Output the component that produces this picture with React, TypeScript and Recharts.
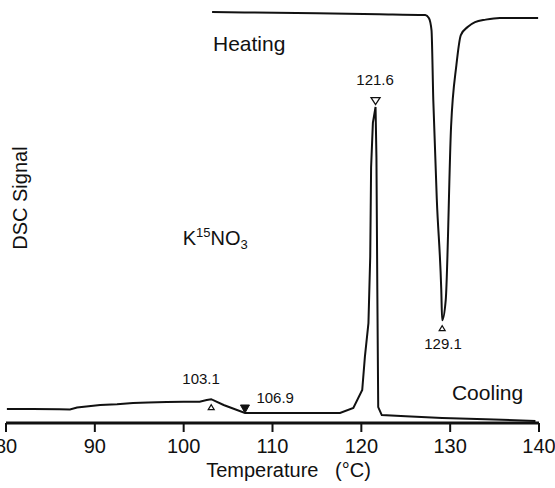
import React from 'react';
import { LineChart, Line, XAxis, YAxis, ReferenceDot } from 'recharts';

// Temperature (°C) and DSC signal (arbitrary units, 0–100)
const heatingTemp = [103.2, 108, 115, 122, 127.2, 127.6, 127.9, 128.1, 128.5, 129.0, 129.1, 129.5, 130.1, 130.7, 131.2, 132.0, 132.8, 134.0, 135.6, 139.9];
const heatingSignal = [98.3, 98.2, 98.0, 97.8, 97.6, 96.9, 94.0, 77.3, 53.3, 31.8, 24.6, 29.4, 70.8, 85.6, 92.8, 94.8, 95.9, 96.5, 96.9, 96.9];

const coolingTemp = [80.1, 83.0, 86.0, 87.2, 88.0, 90.6, 92.5, 94.3, 96.0, 98.1, 100.0, 101.8, 102.6, 103.1, 104.5, 106.9, 112.0, 117.6, 119.1, 120.1, 120.4, 120.8, 121.0, 121.1, 121.3, 121.6, 121.7, 121.8, 121.9, 122.3, 125.0, 129.1, 134.0, 139.6];
const coolingSignal = [3.35, 3.35, 3.3, 3.25, 3.7, 4.3, 4.5, 4.8, 4.9, 5.0, 5.1, 5.1, 5.5, 5.7, 4.3, 2.4, 2.4, 2.4, 3.6, 7.9, 15.8, 23.9, 39.7, 61.2, 71.8, 75.6, 63.6, 31.8, 3.8, 1.9, 1.6, 1.2, 0.9, 0.5];

const xTicks = [80, 90, 100, 110, 120, 130, 140];

// Peak markers: temperature, signal, kind
const markerTemp = [121.6, 129.1, 103.1, 106.9];
const markerSignal = [77.0, 22.7, 3.8, 3.35];
const markerKind = ['openDown', 'openUpSmall', 'openUpSmall', 'filledDown'];

// Peak labels
const peakLabelText = ['121.6', '129.1', '103.1', '106.9'];
const peakLabelTemp = [121.55, 129.2, 101.96, 110.3];
const peakLabelSignal = [80.9, 17.7, 9.3, 4.8];

// Curve labels
const curveLabelText = ['Heating', 'Cooling'];
const curveLabelTemp = [103.3, 130.2];
const curveLabelSignal = [89.0, 5.5];

const heatingData = heatingTemp.map((t, i) => ({ t, v: heatingSignal[i] }));
const coolingData = coolingTemp.map((t, i) => ({ t, v: coolingSignal[i] }));

const FONT = '"Liberation Sans", Arial, Helvetica, sans-serif';
const INK = '#111';

const Marker = ({ cx, cy, kind }: any) => {
  if (cx == null || cy == null) return null;
  if (kind === 'openDown') {
    const w = 4.5, h = 7;
    return <path d={`M${cx - w},${cy - h / 2} L${cx + w},${cy - h / 2} L${cx},${cy + h / 2} Z`} fill="#fff" stroke={INK} strokeWidth={1.3} />;
  }
  if (kind === 'filledDown') {
    const w = 4.5, h = 8;
    return <path d={`M${cx - w},${cy - h / 2} L${cx + w},${cy - h / 2} L${cx},${cy + h / 2} Z`} fill={INK} stroke={INK} strokeWidth={1} />;
  }
  const w = 3, h = 5;
  return <path d={`M${cx - w},${cy + h / 2} L${cx + w},${cy + h / 2} L${cx},${cy - h / 2} Z`} fill="#fff" stroke={INK} strokeWidth={1.2} />;
};

const TextAt = ({ cx, cy, text, size, anchor }: any) => {
  if (cx == null || cy == null) return null;
  return (
    <text x={cx} y={cy} textAnchor={anchor} fontSize={size} fontFamily={FONT} fill={INK}>
      {text}
    </text>
  );
};

const FormulaAt = ({ cx, cy }: any) => {
  if (cx == null || cy == null) return null;
  return (
    <text x={cx} y={cy} fontSize={20} fontFamily={FONT} fill={INK}>
      <tspan>K</tspan>
      <tspan fontSize={13} dy={-8}>15</tspan>
      <tspan dy={8}>NO</tspan>
      <tspan fontSize={13} dy={4}>3</tspan>
    </text>
  );
};

const VerticalLabel = ({ cx, cy }: any) => {
  if (cx == null || cy == null) return null;
  return (
    <text x={cx} y={cy} transform={`rotate(-90, ${cx}, ${cy})`} textAnchor="middle" dominantBaseline="central" fontSize={20} fontFamily={FONT} fill={INK}>
      DSC Signal
    </text>
  );
};

export default function App() {
  return (
    <div style={{ position: 'absolute', left: 0, top: 0, width: 555, height: 488, background: '#fff' }}>
      <LineChart width={555} height={488} margin={{ top: 5, right: 16, bottom: 0, left: 6 }}>
        <XAxis
          type="number"
          dataKey="t"
          domain={[80, 140]}
          ticks={xTicks}
          allowDataOverflow
          height={65}
          axisLine={{ stroke: INK, strokeWidth: 3 }}
          tickLine={{ stroke: INK, strokeWidth: 2 }}
          tickSize={9}
          tickMargin={7}
          tick={{ fill: INK, fontSize: 20, fontFamily: FONT }}
          interval={0}
          label={{ value: 'Temperature\u00a0\u00a0 (°C)', position: 'insideBottom', offset: 11, dx: 16, fill: INK, fontSize: 20, fontFamily: FONT }}
        />
        <YAxis type="number" domain={[0, 100]} allowDataOverflow hide />
        <Line data={heatingData} dataKey="v" type="monotone" stroke={INK} strokeWidth={2} dot={false} isAnimationActive={false} />
        <Line data={coolingData} dataKey="v" type="linear" stroke={INK} strokeWidth={2} dot={false} isAnimationActive={false} />
        {markerTemp.map((t, i) => (
          <ReferenceDot key={`m${i}`} x={t} y={markerSignal[i]} ifOverflow="visible" shape={(p: any) => <Marker {...p} kind={markerKind[i]} />} />
        ))}
        {peakLabelText.map((s, i) => (
          <ReferenceDot key={`p${i}`} x={peakLabelTemp[i]} y={peakLabelSignal[i]} ifOverflow="visible" shape={(p: any) => <TextAt {...p} text={s} size={15} anchor="middle" />} />
        ))}
        {curveLabelText.map((s, i) => (
          <ReferenceDot key={`c${i}`} x={curveLabelTemp[i]} y={curveLabelSignal[i]} ifOverflow="visible" shape={(p: any) => <TextAt {...p} text={s} size={21} anchor="start" />} />
        ))}
        <ReferenceDot x={99.9} y={42.6} ifOverflow="visible" shape={(p: any) => <FormulaAt {...p} />} />
        <ReferenceDot x={81.58} y={53.8} ifOverflow="visible" shape={(p: any) => <VerticalLabel {...p} />} />
      </LineChart>
    </div>
  );
}
